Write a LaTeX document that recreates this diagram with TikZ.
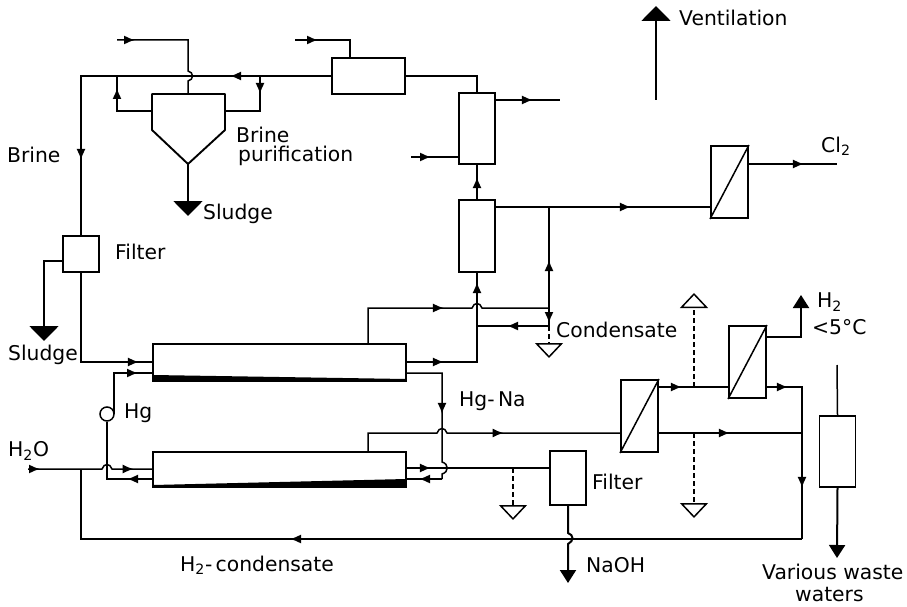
\documentclass[tikz,border=0pt]{standalone}
\usepackage{fontspec}
\setmainfont{DejaVu Sans}
\usetikzlibrary{arrows.meta,decorations.markings}
\tikzset{
  unit/.style={draw=black, line width=1.9pt, fill=white, inner sep=0pt},
  pipe/.style={draw=black, line width=1.5pt},
  thickpipe/.style={draw=black, line width=2pt},
  flowat/.style={postaction={decorate,decoration={markings,
    mark=at position #1 with {\arrow{Latex[length=11pt,width=9pt]}}}}},
  bighead/.style={-{Triangle[length=15pt,width=29pt]}},
  midhead/.style={-{Triangle[length=13pt,width=16pt]}},
  openhead/.style={line width=1.5pt, dash pattern=on 5pt off 3pt,
    -{Triangle[open,length=15pt,width=28pt,line width=1.5pt,fill=white]}},
  label/.style={inner sep=0pt, font=\fontsize{20.3}{22}\selectfont, anchor=west},
}
\begin{document}
\begin{tikzpicture}[x=1pt,y=-1pt]
  \useasboundingbox (0,0) rectangle (907,607);

  % Equipment
  \node[unit, minimum width=73pt, minimum height=36pt] (mixer) at (368.5,76) {};
  \node[unit, minimum width=36pt, minimum height=71pt] (column) at (477,128.5) {};
  \node[unit, minimum width=36pt, minimum height=72pt] (cooler) at (477,236) {};
  \node[unit, minimum width=36pt, minimum height=36pt] (filtera) at (81,254) {};
  \node[unit, minimum width=253pt, minimum height=37pt] (cellone) at (279.5,362.5) {};
  \node[unit, minimum width=253pt, minimum height=35pt] (celltwo) at (279.5,469.5) {};
  \node[unit, minimum width=36pt, minimum height=54pt] (filterb) at (568,478) {};
  \node[unit, minimum width=37pt, minimum height=72pt] (dryer) at (729.5,182) {};
  \node[unit, minimum width=37pt, minimum height=72pt] (coolera) at (639.5,416) {};
  \node[unit, minimum width=37pt, minimum height=72pt] (coolerb) at (747.5,362) {};
  \node[unit, minimum width=36pt, minimum height=71pt] (waste) at (837.5,451.5) {};
  \draw[pipe] (dryer.south west) -- (dryer.north east);
  \draw[pipe] (coolera.south west) -- (coolera.north east);
  \draw[pipe] (coolerb.south west) -- (coolerb.north east);

  % Black layers of the cells
  \fill (cellone.south west) -- (153,375) -- (406,379) -- (cellone.south east) -- cycle;
  \fill (celltwo.south west) -- (153,485) -- (406,479) -- (celltwo.south east) -- cycle;

  % Settler
  \draw[unit, line join=round] (152,94) -- (225,94) -- (225,130) -- (188,164) -- (152,130) -- cycle;
  \coordinate (settlertop) at (188,94);
  \coordinate (settlertip) at (188,164);
  \coordinate (settlerl) at (152,111);
  \coordinate (settlerr) at (225,111);

  % Free ends
  \coordinate (salt) at (117,40);
  \coordinate (soda) at (295,40);
  \coordinate (acid) at (411,157);
  \coordinate (steam) at (560,100);
  \coordinate (clout) at (837,164);
  \coordinate (water) at (28,469);
  \coordinate (ventin) at (656,100);
  \coordinate (ventout) at (656,6);
  \coordinate (wastein) at (837,365);
  \coordinate (wasteout) at (837,558);
  \coordinate (naohout) at (568,583);

  % Pump
  \node[draw=black, line width=1.5pt, circle, minimum size=14pt, inner sep=0pt] (pump) at (107,414) {};

  % Brine loop
  \draw[pipe, flowat=101pt, flowat=334pt] (mixer.west) -- (81,76) -- (filtera.north);
  \draw[pipe, flowat=18pt] (salt) -- (188,40) -- (188,71)
    .. controls (194,72) and (194,80) .. (188,81) -- (settlertop);
  \draw[pipe, flowat=58pt] (settlerl) -- (117,111) -- (117,76);
  \draw[pipe, flowat=18pt] (260,76) -- (260,111) -- (settlerr);
  \draw[thickpipe, bighead] (settlertip) -- (188,216);
  \draw[pipe, flowat=23pt] (soda) -- (350,40) -- (mixer.north -| 350,0);
  \draw[pipe] (mixer.east) -- (477,76) -- (column.north);

  % Chlorine line
  \draw[pipe, flowat=37pt] (column.east |- 0,100) -- (steam);
  \draw[pipe, flowat=20pt] (acid) -- (column.west |- acid);
  \draw[pipe, flowat=22pt] (cooler.north) -- (column.south);
  \draw[pipe, flowat=135pt] (cooler.east |- 0,207) -- (dryer.west |- 0,207);
  \draw[pipe, flowat=48pt] (549,308) -- (549,207);
  \draw[pipe, flowat=15pt] (549,308) -- (549,326);
  \draw[pipe, flowat=55pt] (dryer.east |- 0,164) -- (clout);
  \draw[pipe, flowat=42pt] (549,326) -- (477,326);
  \draw[openhead] (549,326) -- (549,358);
  \draw[thickpipe, bighead] (ventin) -- (ventout);

  % Cell outlets
  \draw[pipe, flowat=111pt] (cellone.north -| 368,0) -- (368,308) -- (472,308)
    .. controls (474,302) and (480,302) .. (482,308) -- (549,308);
  \draw[pipe, flowat=37pt, flowat=150pt] (cellone.east |- 0,362) -- (477,362) -- (cooler.south);
  \draw[pipe, flowat=76pt] (cellone.east |- 0,373) -- (442,373) -- (442,462)
    .. controls (449,464) and (449,472) .. (442,474) -- (442,479);
  \draw[pipe, flowat=23pt] (442,479) -- (celltwo.east |- 0,479);
  \draw[pipe, flowat=24pt] (celltwo.east |- 0,468) -- (filterb.west |- 0,468);
  \draw[pipe, flowat=158pt] (celltwo.north -| 368,0) -- (368,433) -- (437,433)
    .. controls (439,427) and (445,427) .. (447,433) -- (coolera.west |- 0,433);
  \draw[openhead] (513,468) -- (513,520);

  % Cell inlets
  \draw[pipe, flowat=147pt] (filtera.south) -- (81,362) -- (cellone.west |- 0,362);
  \draw[thickpipe, bighead] (filtera.west |- 0,261) -- (44,261) -- (44,341);
  \draw[pipe, flowat=65pt] (114,414) -- (114,373) -- (cellone.west |- 0,373);
  \draw[pipe, flowat=12pt, flowat=110pt] (water) -- (102,469)
    .. controls (104,463) and (110,463) .. (112,469) -- (celltwo.west |- 0,469);
  \draw[pipe, flowat=25pt] (celltwo.west |- 0,479) -- (107,479) -- (pump.south);

  % Condensate lines
  \draw[pipe, flowat=23pt] (coolera.east |- 0,387) -- (coolerb.west |- 0,387);
  \draw[pipe, flowat=71pt] (coolera.east |- 0,433) -- (802,433);
  \draw[pipe, flowat=21pt, flowat=136pt] (coolerb.east |- 0,387) -- (802,387) -- (802,539);
  \draw[pipe, flowat=512pt] (802,539) -- (81,539) -- (81,469);
  \draw[thickpipe, midhead] (coolerb.east |- 0,337) -- (801,337) -- (801,295);
  \draw[openhead] (694,387) -- (694,293);
  \draw[openhead] (694,433) -- (694,518);
  \draw[pipe] (wastein) -- (waste.north);
  \draw[thickpipe, midhead] (waste.south) -- (wasteout);
  \draw[thickpipe, midhead] (filterb.south) -- (568,533)
    .. controls (574,535) and (574,541) .. (568,544) -- (naohout);

  % Labels
  \node[label] (lvent) at (679,18) {Ventilation};
  \node[label] (lbrine) at (7,155) {Brine};
  \node[label] (lpura) at (236,134.5) {Brine};
  \node[label] (lpurb) at (238,156) {purification};
  \node[label] (lsluda) at (203,214) {Sludge};
  \node[label] (lfiltera) at (115,252) {Filter};
  \node[label] (lsludb) at (8,355) {Sludge};
  \node[label] (lhg) at (124,413) {Hg};
  \node[label] (lwater) at (8,451) {H\textsubscript{2}O};
  \node[label] (lcondense) at (180,565) {H\textsubscript{2}-\,condensate};
  \node[label] (lhgna) at (459,401) {Hg-\,Na};
  \node[label] (lcond) at (556,330) {Condensate};
  \node[label] (lfilterb) at (592,482) {Filter};
  \node[label] (lnaoh) at (586,565) {NaOH};
  \node[label] (lcl) at (821,146) {Cl\textsubscript{2}};
  \node[label] (lhtwo) at (817,302) {H\textsubscript{2}};
  \node[label] (ltemp) at (812,327) {<5°C};
  \node[label] (lvarious) at (762,572) {Various waste};
  \node[label] (lwaters) at (795,595) {waters};
\end{tikzpicture}
\end{document}
